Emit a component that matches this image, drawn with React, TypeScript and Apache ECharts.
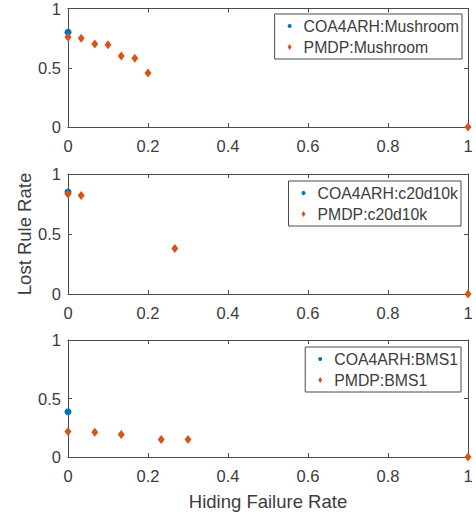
import React, { useEffect, useRef } from "react";
import * as echarts from "echarts";

// ---- data ----
const datasets = ["Mushroom", "c20d10k", "BMS1"];
const xTicks = [0, 0.2, 0.4, 0.6, 0.8, 1];
const yTicks = [0, 0.5, 1];

const coaMushroomX = [0];
const coaMushroomY = [0.8];
const pmdpMushroomX = [0, 0.033, 0.067, 0.1, 0.133, 0.167, 0.2, 1];
const pmdpMushroomY = [0.76, 0.75, 0.7, 0.695, 0.6, 0.58, 0.455, 0];

const coaC20X = [0];
const coaC20Y = [0.85];
const pmdpC20X = [0, 0.033, 0.267, 1];
const pmdpC20Y = [0.833, 0.82, 0.38, 0];

const coaBmsX = [0];
const coaBmsY = [0.387];
const pmdpBmsX = [0, 0.067, 0.133, 0.233, 0.3, 1];
const pmdpBmsY = [0.217, 0.212, 0.192, 0.15, 0.15, 0];

const coaX = [coaMushroomX, coaC20X, coaBmsX];
const coaY = [coaMushroomY, coaC20Y, coaBmsY];
const pmdpX = [pmdpMushroomX, pmdpC20X, pmdpBmsX];
const pmdpY = [pmdpMushroomY, pmdpC20Y, pmdpBmsY];

const xName = "Hiding Failure Rate";
const yName = "Lost Rule Rate";

const zip = (xs: number[], ys: number[]) => xs.map((x, i) => [x, ys[i]]);

export default function App() {
  const ref = useRef<HTMLDivElement>(null);
  useEffect(() => {
    document.body.style.margin = "0";
    if (!ref.current) return;
    const chart = echarts.init(ref.current, undefined, { renderer: "svg" });
    const font = "'Liberation Sans', Arial, Helvetica, sans-serif";
    const lineColor = "#4a4a4a";
    const textColor = "#3c3c3c";
    const blue = "#0072BD";
    const orange = "#D95319";
    const tops = [7, 174, 340];
    const legendTops = [14, 181, 347];
    const legendRights = [14, 15, 15];

    const grids = tops.map((t) => ({ left: 68, top: t, width: 400, height: 120 }));
    const xAxes: any[] = [];
    const yAxes: any[] = [];
    const series: any[] = [];
    const legends: any[] = [];

    const axisCommon = (pos: string, showLabel: boolean) => ({
      type: "value",
      min: 0,
      max: 1,
      position: pos,
      axisLine: { show: true, onZero: false, lineStyle: { color: lineColor, width: 1 } },
      axisTick: { show: true, inside: true, length: 4, lineStyle: { color: lineColor, width: 1 } },
      splitLine: { show: false },
      axisLabel: { show: showLabel, fontSize: 16.5, color: textColor, fontFamily: font },
    });

    datasets.forEach((ds, i) => {
      const bx: any = { ...axisCommon("bottom", true), gridIndex: i, interval: xTicks[1] - xTicks[0] };
      bx.axisLabel = { ...bx.axisLabel, margin: 10 };
      if (i === 2) {
        bx.name = xName;
        bx.nameLocation = "middle";
        bx.nameGap = 35;
        bx.nameMoveOverlap = false;
        bx.nameTextStyle = { fontSize: 18.5, color: textColor, fontFamily: font };
      }
      const tx: any = { ...axisCommon("top", false), gridIndex: i, interval: xTicks[1] - xTicks[0] };
      xAxes.push(bx, tx);

      const ly: any = { ...axisCommon("left", true), gridIndex: i, interval: yTicks[1] - yTicks[0] };
      ly.axisLabel = { ...ly.axisLabel, margin: 7 };
      if (i === 1) {
        ly.name = yName;
        ly.nameLocation = "middle";
        ly.nameGap = 34;
        ly.nameMoveOverlap = false;
        ly.nameTextStyle = { fontSize: 18.5, color: textColor, fontFamily: font };
      }
      const ry: any = { ...axisCommon("right", false), gridIndex: i, interval: yTicks[1] - yTicks[0] };
      yAxes.push(ly, ry);

      const coaName = "COA4ARH:" + ds;
      const pmdpName = "PMDP:" + ds;
      series.push({
        type: "scatter",
        name: coaName,
        xAxisIndex: 2 * i,
        yAxisIndex: 2 * i,
        data: zip(coaX[i], coaY[i]),
        symbol: "circle",
        symbolSize: 7,
        itemStyle: { color: blue, opacity: 1 },
        clip: false,
        z: 2,
      });
      series.push({
        type: "scatter",
        name: pmdpName,
        xAxisIndex: 2 * i,
        yAxisIndex: 2 * i,
        data: zip(pmdpX[i], pmdpY[i]),
        symbol: "diamond",
        symbolSize: [7, 9],
        itemStyle: { color: orange, opacity: 1 },
        clip: false,
        z: 3,
      });
      legends.push({
        data: [coaName, pmdpName],
        orient: "vertical",
        right: legendRights[i],
        top: legendTops[i],
        itemWidth: 4,
        itemHeight: 6,
        itemGap: 5,
        padding: [4, 3, 4, 13],
        backgroundColor: "#ffffff",
        borderColor: lineColor,
        borderWidth: 1,
        borderRadius: 0,
        selectedMode: false,
        textStyle: { fontSize: 15.8, color: textColor, fontFamily: font, padding: [0, 0, 0, 7] },
      });
    });

    chart.setOption({
      animation: false,
      backgroundColor: "#ffffff",
      grid: grids,
      xAxis: xAxes,
      yAxis: yAxes,
      legend: legends,
      series,
    });
    return () => chart.dispose();
  }, []);
  return <div ref={ref} style={{ width: 476, height: 512 }} />;
}
